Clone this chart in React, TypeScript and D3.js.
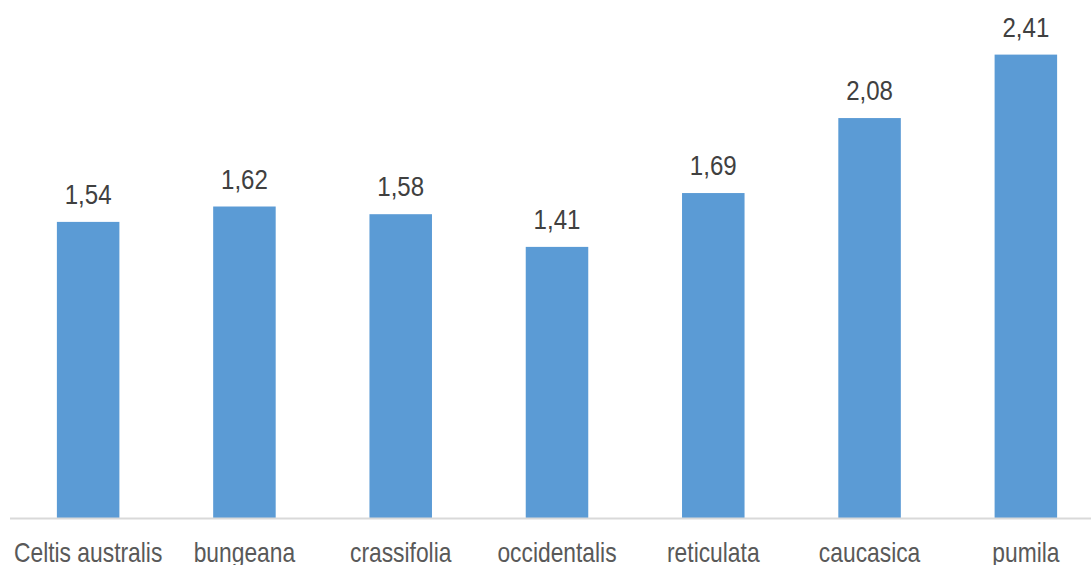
import React from "react";
import * as d3 from "d3";

const categories = [
  "Celtis australis",
  "bungeana",
  "crassifolia",
  "occidentalis",
  "reticulata",
  "caucasica",
  "pumila",
];
const values = [1.54, 1.62, 1.58, 1.41, 1.69, 2.08, 2.41];

const W = 1091;
const H = 565;
const FONT = "'Liberation Sans', Arial, sans-serif";

// Narrow face emulated by horizontally condensing the regular sans
function NarrowText({
  x,
  y,
  size,
  squeeze,
  fill,
  children,
}: {
  x: number;
  y: number;
  size: number;
  squeeze: number;
  fill: string;
  children: React.ReactNode;
}) {
  return (
    <g transform={`translate(${x},${y}) scale(${squeeze},1)`}>
      <text x={0} y={0} textAnchor="middle" fontFamily={FONT} fontSize={size} fill={fill}>
        {children}
      </text>
    </g>
  );
}

export default function App() {
  const x = d3
    .scaleBand<string>()
    .domain(categories)
    .range([10, 1104])
    .paddingInner(0.6)
    .paddingOuter(0.3);
  const y = d3.scaleLinear().domain([0, 2.5]).range([518, 37.3]);
  const fmt = (v: number) => v.toFixed(2).replace(".", ",");

  return (
    <svg
      width={W}
      height={H}
      style={{ position: "absolute", left: 0, top: 0, background: "#fff" }}
    >
      {categories.map((c, i) => (
        <rect
          key={c}
          x={x(c)}
          y={y(values[i])}
          width={x.bandwidth()}
          height={y(0) - y(values[i])}
          fill="#5B9BD5"
        />
      ))}
      <line x1={10} x2={W} y1={518.5} y2={518.5} stroke="#D9D9D9" strokeWidth={2} />
      {categories.map((c, i) => (
        <NarrowText
          key={"v" + c}
          x={x(c)! + x.bandwidth() / 2}
          y={y(values[i]) - 18}
          size={28}
          squeeze={0.86}
          fill="#404040"
        >
          {fmt(values[i])}
        </NarrowText>
      ))}
      {categories.map((c) => (
        <NarrowText
          key={"c" + c}
          x={x(c)! + x.bandwidth() / 2}
          y={562}
          size={28}
          squeeze={0.815}
          fill="#595959"
        >
          {c}
        </NarrowText>
      ))}
    </svg>
  );
}
